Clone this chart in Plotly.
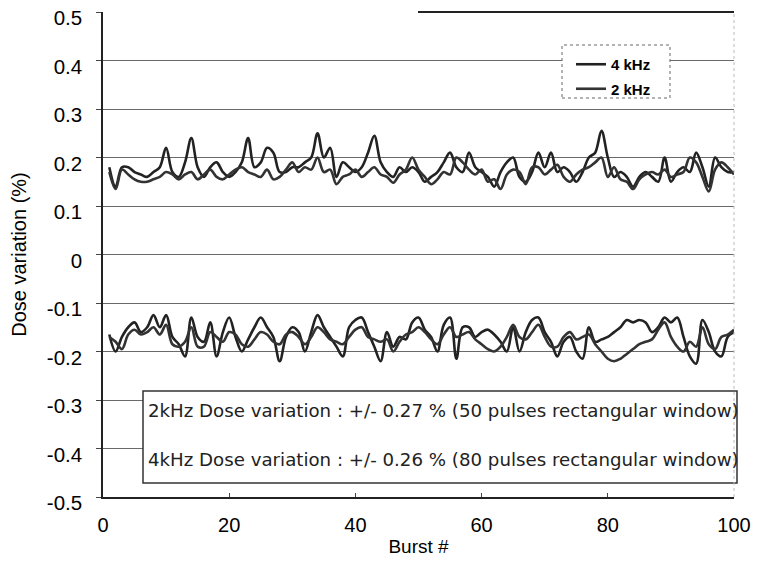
import plotly.graph_objects as go

burst = list(range(1, 101))

max_4khz = [0.18, 0.14, 0.18, 0.18, 0.17, 0.165, 0.16, 0.17, 0.18, 0.22,
            0.17, 0.16, 0.19, 0.24, 0.18, 0.16, 0.18, 0.19, 0.17, 0.16,
            0.17, 0.19, 0.24, 0.18, 0.19, 0.22, 0.21, 0.17, 0.17, 0.18,
            0.18, 0.19, 0.2, 0.25, 0.2, 0.22, 0.16, 0.19, 0.18, 0.17,
            0.18, 0.21, 0.245, 0.19, 0.17, 0.16, 0.18, 0.17, 0.18, 0.17,
            0.15, 0.16, 0.17, 0.19, 0.21, 0.18, 0.17, 0.21, 0.18, 0.17,
            0.16, 0.14, 0.17, 0.19, 0.2, 0.16, 0.15, 0.17, 0.21, 0.18,
            0.21, 0.17, 0.18, 0.17, 0.15, 0.17, 0.2, 0.21, 0.255, 0.2,
            0.16, 0.17, 0.16, 0.14, 0.16, 0.17, 0.16, 0.15, 0.2, 0.15,
            0.17, 0.18, 0.17, 0.21, 0.18, 0.14, 0.2, 0.18, 0.17, 0.17]

max_2khz = [0.17, 0.135, 0.175, 0.165, 0.155, 0.15, 0.15, 0.155, 0.16, 0.17,
            0.165, 0.155, 0.165, 0.17, 0.155, 0.165, 0.175, 0.16, 0.155, 0.165,
            0.175, 0.18, 0.17, 0.165, 0.16, 0.175, 0.155, 0.16, 0.175, 0.19,
            0.17, 0.18, 0.175, 0.2, 0.17, 0.175, 0.145, 0.16, 0.165, 0.175,
            0.16, 0.17, 0.18, 0.165, 0.16, 0.148, 0.165, 0.175, 0.2, 0.175,
            0.16, 0.145, 0.155, 0.17, 0.165, 0.2, 0.19, 0.175, 0.165, 0.175,
            0.15, 0.155, 0.135, 0.165, 0.175, 0.17, 0.145, 0.18, 0.18, 0.165,
            0.175, 0.185, 0.16, 0.15, 0.165, 0.175, 0.18, 0.19, 0.2, 0.16,
            0.18, 0.155, 0.15, 0.135, 0.155, 0.165, 0.17, 0.165, 0.175, 0.16,
            0.165, 0.17, 0.2, 0.19, 0.16, 0.13, 0.175, 0.19, 0.18, 0.165]

min_4khz = [-0.165, -0.2, -0.17, -0.15, -0.14, -0.16, -0.15, -0.125, -0.15, -0.125,
            -0.17, -0.185, -0.21, -0.13, -0.17, -0.18, -0.14, -0.21, -0.16, -0.13,
            -0.17, -0.2, -0.175, -0.15, -0.13, -0.15, -0.17, -0.22, -0.17, -0.15,
            -0.16, -0.2, -0.16, -0.125, -0.15, -0.17, -0.19, -0.21, -0.15, -0.135,
            -0.13, -0.16, -0.19, -0.22, -0.16, -0.19, -0.17, -0.175, -0.14, -0.13,
            -0.155, -0.17, -0.2, -0.145, -0.13, -0.215, -0.15, -0.15, -0.17, -0.16,
            -0.155, -0.165, -0.18, -0.2, -0.15, -0.2, -0.16, -0.135, -0.13, -0.16,
            -0.18, -0.21, -0.18, -0.17, -0.2, -0.215, -0.15, -0.18, -0.175, -0.17,
            -0.16, -0.15, -0.135, -0.14, -0.135, -0.14, -0.16, -0.15, -0.13, -0.14,
            -0.13, -0.17, -0.21, -0.225, -0.135, -0.16, -0.2, -0.21, -0.17, -0.16]

min_2khz = [-0.17, -0.18, -0.195, -0.165, -0.155, -0.165, -0.16, -0.15, -0.165, -0.145,
            -0.185, -0.19, -0.18, -0.15, -0.19, -0.19, -0.16, -0.17, -0.18, -0.16,
            -0.165, -0.185, -0.19, -0.175, -0.16, -0.165, -0.18, -0.185, -0.165, -0.16,
            -0.17, -0.185, -0.17, -0.15, -0.16, -0.175, -0.18, -0.185, -0.17, -0.155,
            -0.15, -0.17, -0.175, -0.18, -0.175, -0.2, -0.18, -0.165, -0.16, -0.15,
            -0.16, -0.175, -0.185, -0.165, -0.15, -0.17, -0.165, -0.16, -0.175, -0.185,
            -0.195, -0.2, -0.19, -0.17, -0.145, -0.17, -0.175, -0.16, -0.145, -0.17,
            -0.19, -0.19, -0.17, -0.16, -0.175, -0.17, -0.165, -0.185, -0.2, -0.215,
            -0.22, -0.215, -0.205, -0.195, -0.185, -0.18, -0.175, -0.155, -0.14, -0.17,
            -0.19, -0.2, -0.18, -0.19, -0.15, -0.185, -0.195, -0.17, -0.165, -0.155]

y_ticks = [0.5, 0.4, 0.3, 0.2, 0.1, 0, -0.1, -0.2, -0.3, -0.4, -0.5]
y_tick_text = ["0.5", "0.4", "0.3", "0.2", "0.1", "0", "-0.1", "-0.2", "-0.3", "-0.4", "-0.5"]
x_ticks = [0, 20, 40, 60, 80, 100]

note_lines = [
    "2kHz Dose variation : +/- 0.27 % (50 pulses rectangular window)",
    "4kHz Dose variation : +/- 0.26 % (80 pulses rectangular window)",
]

L, R, T, B = 103, 26, 12, 65
PW, PH = 760 - L - R, 562 - T - B


def px_x(p):
    return (p - L) / PW


def px_y(p):
    return (562 - B - p) / PH


fig = go.Figure()
line4 = dict(color="#222222", width=2.6)
line2 = dict(color="#333333", width=2.6)

fig.add_trace(go.Scatter(x=burst, y=max_4khz, mode="lines", name="4 kHz",
                         line=line4, line_shape="spline", legendgroup="4"))
fig.add_trace(go.Scatter(x=burst, y=min_4khz, mode="lines", name="4 kHz",
                         line=line4, line_shape="spline", legendgroup="4", showlegend=False))
fig.add_trace(go.Scatter(x=burst, y=max_2khz, mode="lines", name="2 kHz",
                         line=line2, line_shape="spline", legendgroup="2"))
fig.add_trace(go.Scatter(x=burst, y=min_2khz, mode="lines", name="2 kHz",
                         line=line2, line_shape="spline", legendgroup="2", showlegend=False))

# annotation box
fig.add_shape(type="rect", xref="paper", yref="paper",
              x0=px_x(143), x1=px_x(737), y0=px_y(483), y1=px_y(391),
              line=dict(color="#333", width=1.5), fillcolor="white", layer="above")
# legend box
fig.add_shape(type="rect", xref="paper", yref="paper",
              x0=px_x(562), x1=px_x(670), y0=px_y(98), y1=px_y(45),
              line=dict(color="#666", width=1, dash="dot"), fillcolor="white", layer="above")
# right border (faint)
fig.add_shape(type="line", xref="paper", yref="paper", x0=1, x1=1, y0=0, y1=1,
              line=dict(color="#bbbbbb", width=1, dash="dot"))
# darker top edge segment
fig.add_shape(type="line", xref="paper", yref="paper", x0=px_x(418), x1=1, y0=1, y1=1,
              line=dict(color="#222", width=2))

for i, t in enumerate(note_lines):
    ypx = [410, 459][i]
    fig.add_annotation(text=t, xref="paper", yref="paper",
                       x=px_x(146), y=px_y(ypx),
                       xanchor="left", yanchor="middle", showarrow=False,
                       font=dict(family="DejaVu Sans", size=18.2, color="#222"))

fig.update_layout(
    width=760, height=562,
    margin=dict(l=L, r=R, t=T, b=B, autoexpand=False),
    paper_bgcolor="white", plot_bgcolor="white",
    font=dict(family="Arial, Liberation Sans", color="black"),
    legend=dict(x=px_x(571), y=px_y(48), xanchor="left", yanchor="top",
                bgcolor="rgba(0,0,0,0)", borderwidth=0,
                font=dict(family="Arial, Liberation Sans", size=15, color="black", weight="bold"),
                itemwidth=30, tracegroupgap=2),
    xaxis=dict(range=[0, 100], tickvals=x_ticks, showgrid=False, zeroline=False,
               automargin=False,
               showline=True, linecolor="#222", linewidth=1.5,
               ticks="inside", ticklen=4, tickcolor="#444",
               ticklabelstandoff=9,
               tickfont=dict(size=20, color="black"),
               title=dict(text="Burst #", font=dict(size=19, color="black"), standoff=5)),
    yaxis=dict(range=[-0.5, 0.5], tickvals=y_ticks, ticktext=y_tick_text,
               automargin=False,
               showgrid=True, gridcolor="#6a6a6a", gridwidth=1, zeroline=False,
               showline=True, linecolor="#222", linewidth=1.5,
               ticks="outside", ticklen=5, tickcolor="#444",
               ticklabelstandoff=10, ticklabelshift=6, ticklabeloverflow="allow",
               tickfont=dict(size=20.5, color="black"),
               title=dict(text="Dose variation (%)", font=dict(size=20, color="black"), standoff=15)),
)

fig.write_html("out.html", config={"displayModeBar": False},
               post_script="document.body.style.margin='0';")
